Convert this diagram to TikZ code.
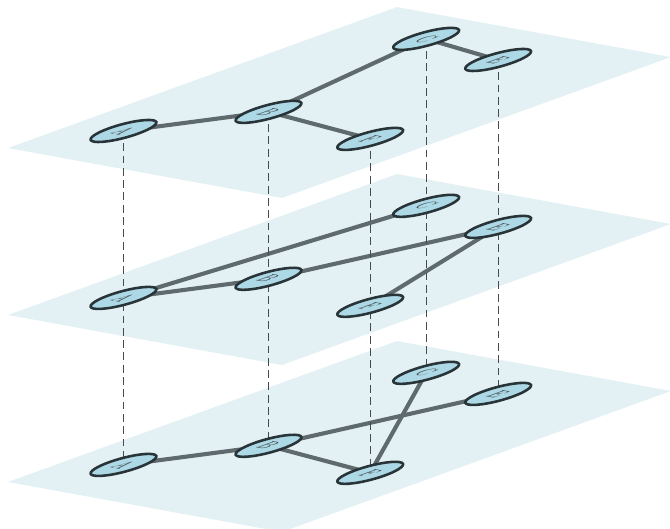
\documentclass[tikz,border=0pt]{standalone}
\usetikzlibrary{positioning}

\definecolor{planecol}{RGB}{227,241,245}
\definecolor{nodefill}{RGB}{173,216,230}
\definecolor{nodecol}{RGB}{40,52,56}
\definecolor{edgecol}{RGB}{95,106,110}
\definecolor{dashcol}{RGB}{70,74,76}
\definecolor{textcol}{RGB}{60,68,72}

\pgfdeclarelayer{planes}
\pgfdeclarelayer{links}
\pgfsetlayers{planes,links,main}

\begin{document}
\begin{tikzpicture}[
  vertex/.style={circle, draw=nodecol, fill=nodefill, line width=0.75pt,
    minimum size=0.59cm, inner sep=0pt, transform shape, xscale=0.9, yscale=1.03,
    font=\scriptsize, text=textcol},
  link/.style={draw=edgecol, line width=1.2pt},
  interlink/.style={draw=dashcol, line width=0.35pt, dash pattern=on 2.3pt off 1.3pt}
]
  \useasboundingbox (0,0) rectangle (6.891,5.441);

  % three layers, same vertices
  \foreach \l/\y in {1/3.918, 2/2.201, 3/0.4834} {
    \begin{scope}[cm={0.5636,-0.1028,1.0002,0.3625,(0.0823,\y)}]
      \begin{pgfonlayer}{planes}
        \fill [planecol] (0,0) rectangle (5,4);
      \end{pgfonlayer}
      \node [vertex] (A\l) at (0.83,0.72) {A};
      \node [vertex] (B\l) at (1.95,1.58) {B};
      \node [vertex] (C\l) at (1.42,3.50) {C};
      \node [vertex] (E\l) at (3.00,3.35) {E};
      \node [vertex] (F\l) at (4.09,1.42) {F};
    \end{scope}
  }

  \begin{pgfonlayer}{links}
    % top layer
    \draw [link] (A1.center) -- (B1.center) -- (C1.center) -- (E1.center);
    \draw [link] (B1.center) -- (F1.center);
    % middle layer
    \draw [link] (C2.center) -- (A2.center) -- (B2.center) -- (E2.center) -- (F2.center);
    % bottom layer
    \draw [link] (A3.center) -- (B3.center) -- (E3.center);
    \draw [link] (B3.center) -- (F3.center) -- (C3.center);

    \foreach \n in {A,B,C,E,F}
      \draw [interlink] (\n1.center) -- (\n2.center) -- (\n3.center);
  \end{pgfonlayer}
\end{tikzpicture}
\end{document}
